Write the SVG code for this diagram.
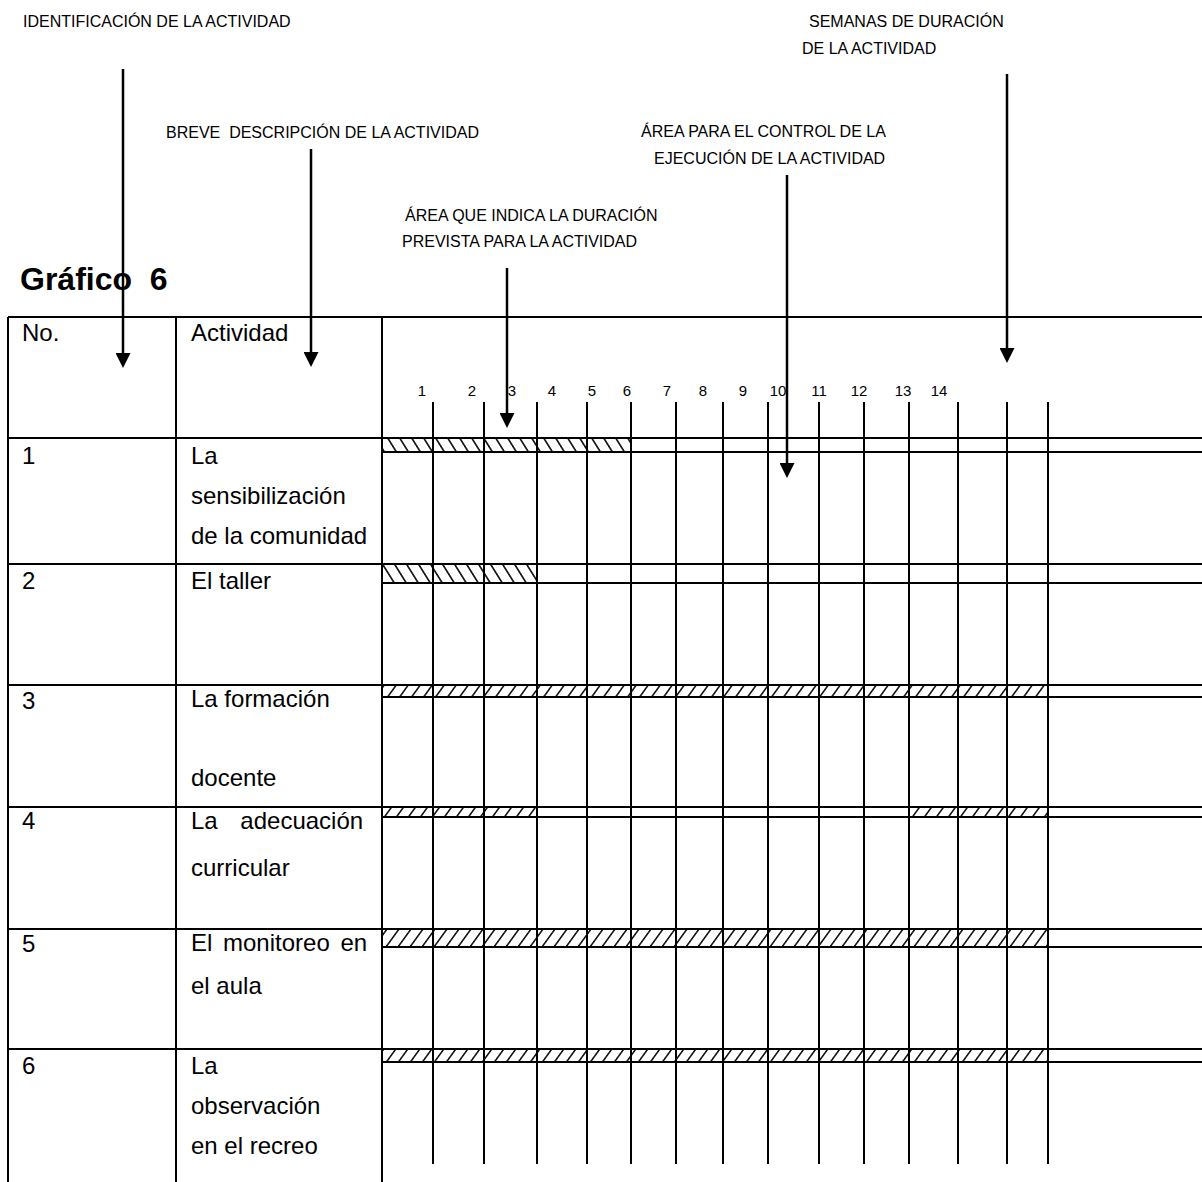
<svg xmlns="http://www.w3.org/2000/svg" width="1202" height="1182" viewBox="0 0 1202 1182">
<style>
  text { font-family: "Liberation Sans", Arial, sans-serif; fill: #000; white-space: pre; }
  .lbl { font-size: 16px; }
  .body { font-size: 24px; }
  .num { font-size: 15px; text-anchor: middle; }
  .title { font-size: 32px; font-weight: bold; }
  .ln { stroke: #000; stroke-width: 2; fill: none; }
  .grid { stroke: #000; stroke-width: 2; fill: none; }
  .arrow { stroke: #000; stroke-width: 2.5; fill: none; marker-end: url(#ah); }
  .hb { fill: url(#hatchB); }
  .hf { fill: url(#hatchF); }
</style>
<defs>
  <marker id="ah" markerUnits="userSpaceOnUse" viewBox="0 0 15 15" markerWidth="15" markerHeight="15" refX="7" refY="7.5" orient="auto">
    <path d="M0,0 L15,7.5 L0,15 Z" fill="#000"/>
  </marker>
  <pattern id="hatchB" patternUnits="userSpaceOnUse" width="12" height="20" patternTransform="skewX(32)">
    <line x1="6" y1="-2" x2="6" y2="22" stroke="#000" stroke-width="1.8"/>
  </pattern>
  <pattern id="hatchF" patternUnits="userSpaceOnUse" width="12" height="20" patternTransform="skewX(-36)">
    <line x1="6" y1="-2" x2="6" y2="22" stroke="#000" stroke-width="1.8"/>
  </pattern>
</defs>

<g id="annotations">
  <g id="lbl-identificacion"><text class="lbl" x="23" y="27">IDENTIFICACIÓN DE LA ACTIVIDAD</text></g>
  <g id="lbl-semanas">
    <text class="lbl" x="809" y="27">SEMANAS DE DURACIÓN</text>
    <text class="lbl" x="802" y="54">DE LA ACTIVIDAD</text>
  </g>
  <g id="lbl-breve"><text class="lbl" x="166" y="138" xml:space="preserve">BREVE  DESCRIPCIÓN DE LA ACTIVIDAD</text></g>
  <g id="lbl-control">
    <text class="lbl" x="641" y="137">ÁREA PARA EL CONTROL DE LA</text>
    <text class="lbl" x="654" y="164">EJECUCIÓN DE LA ACTIVIDAD</text>
  </g>
  <g id="lbl-duracion">
    <text class="lbl" x="405" y="221">ÁREA QUE INDICA LA DURACIÓN</text>
    <text class="lbl" x="402" y="247">PREVISTA PARA LA ACTIVIDAD</text>
  </g>
  <g id="title"><text class="title" x="20" y="290" xml:space="preserve">Gráfico  6</text></g>
</g>

<g id="table">
  <g id="hatching">
    <rect class="hb" x="383" y="439" width="248" height="12"/>
    <rect class="hb" x="383" y="565" width="154" height="18"/>
    <rect class="hf" x="383" y="686" width="665" height="11"/>
    <rect class="hf" x="383" y="808" width="154" height="9"/>
    <rect class="hf" x="909" y="808" width="139" height="9"/>
    <rect class="hf" x="383" y="930" width="665" height="17"/>
    <rect class="hf" x="383" y="1050" width="665" height="12"/>
  </g>
  <g id="table-lines">
    <path class="ln" d="M8,317 H1202 M8,438 H1202 M8,564 H1202 M8,685 H1202 M8,807 H1202 M8,929 H1202 M8,1049 H1202"/>
    <path class="ln" d="M382,452 H1202 M382,583 H1202 M382,697 H1202 M382,817 H1202 M382,947 H1202 M382,1062 H1202"/>
    <path class="ln" d="M8,317 V1182 M176,317 V1182 M382,317 V1182"/>
    <path class="grid" d="M433,402 V1164 M484,402 V1164 M537,402 V1164 M587,402 V1164 M631,402 V1164 M676,402 V1164 M723,402 V1164 M768,402 V1164 M819,402 V1164 M864,402 V1164 M909,402 V1164 M958,402 V1164 M1007,402 V1164 M1048,402 V1164"/>
  </g>
  <g id="week-numbers">
    <text class="num" x="422" y="396">1</text>
    <text class="num" x="472" y="396">2</text>
    <text class="num" x="512" y="396">3</text>
    <text class="num" x="552" y="396">4</text>
    <text class="num" x="592" y="396">5</text>
    <text class="num" x="627" y="396">6</text>
    <text class="num" x="667" y="396">7</text>
    <text class="num" x="703" y="396">8</text>
    <text class="num" x="743" y="396">9</text>
    <text class="num" x="778" y="396">10</text>
    <text class="num" x="819" y="396">11</text>
    <text class="num" x="859" y="396">12</text>
    <text class="num" x="903" y="396">13</text>
    <text class="num" x="939" y="396">14</text>
  </g>
  <g id="header">
    <text class="body" x="22" y="341">No.</text>
    <text class="body" x="191" y="341">Actividad</text>
  </g>
  <g id="row-1">
    <text class="body" x="22" y="464">1</text>
    <text class="body" x="191" y="464">La</text>
    <text class="body" x="191" y="504">sensibilización</text>
    <text class="body" x="191" y="544">de la comunidad</text>
  </g>
  <g id="row-2">
    <text class="body" x="22" y="589">2</text>
    <text class="body" x="191" y="589">El taller</text>
  </g>
  <g id="row-3">
    <text class="body" x="22" y="709">3</text>
    <text class="body" x="191" y="707">La formación</text>
    <text class="body" x="191" y="786">docente</text>
  </g>
  <g id="row-4">
    <text class="body" x="22" y="829">4</text>
    <text class="body" x="191" y="829" word-spacing="16">La adecuación</text>
    <text class="body" x="191" y="876">curricular</text>
  </g>
  <g id="row-5">
    <text class="body" x="22" y="952">5</text>
    <text class="body" x="191" y="951" word-spacing="4">El monitoreo en</text>
    <text class="body" x="191" y="994">el aula</text>
  </g>
  <g id="row-6">
    <text class="body" x="22" y="1074">6</text>
    <text class="body" x="191" y="1074">La</text>
    <text class="body" x="191" y="1114">observación</text>
    <text class="body" x="191" y="1154">en el recreo</text>
  </g>
</g>

<g id="connectors">
  <line class="arrow" x1="123" y1="69" x2="123" y2="360"/>
  <line class="arrow" x1="311" y1="149" x2="311" y2="359"/>
  <line class="arrow" x1="507" y1="268" x2="507" y2="420"/>
  <line class="arrow" x1="787" y1="175" x2="787" y2="470"/>
  <line class="arrow" x1="1007" y1="74" x2="1007" y2="355"/>
</g>
</svg>
